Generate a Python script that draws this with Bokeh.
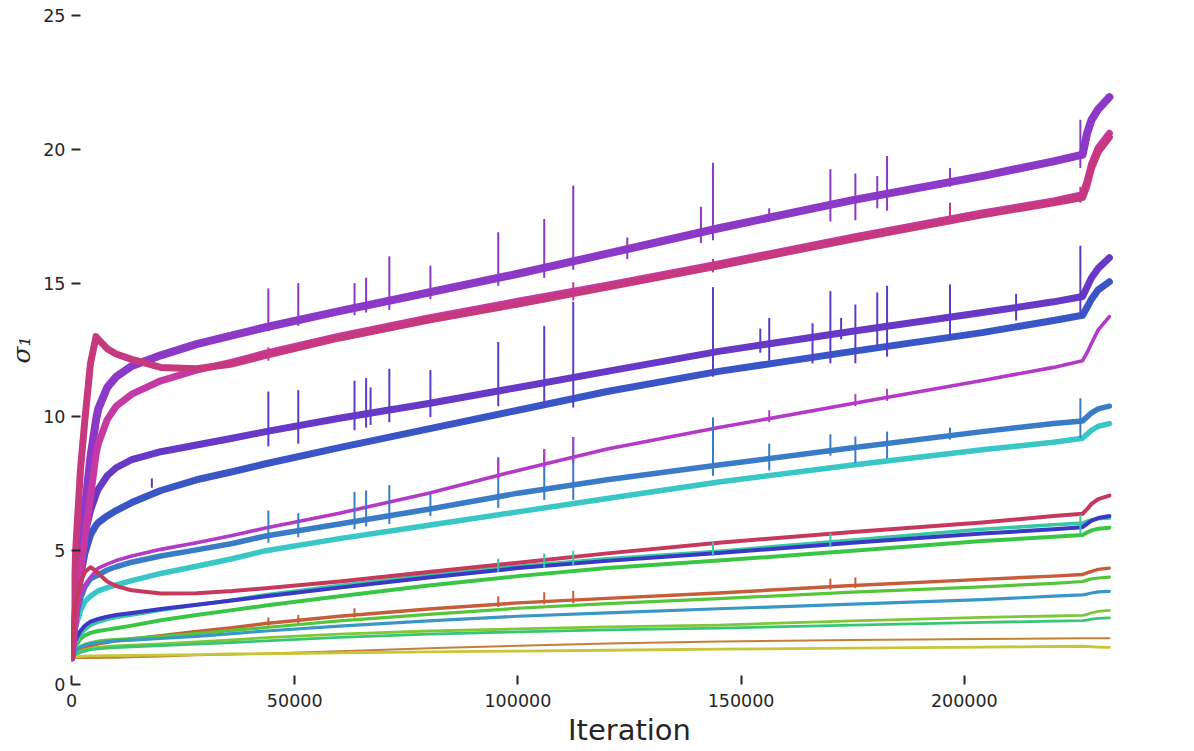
from bokeh.plotting import figure
from bokeh.models import ColumnDataSource, Range1d, FixedTicker, BasicTickFormatter
from bokeh.embed import file_html
from bokeh.resources import INLINE

# ---------------- data ----------------
iters = [0, 500, 1000, 2000, 3000, 4250, 5500, 6000, 8000, 10000, 13500, 20000, 28000, 36000,
         43500, 60000, 80000, 100000, 120000, 145000, 175000, 204000, 220000, 226500, 227500,
         228500, 230000, 232500]

s01 = [1.0, 2.0, 3.0, 5.0, 6.6, 8.5, 9.9, 10.3, 11.1, 11.5, 11.9, 12.3, 12.72, 13.05, 13.35, 13.95,
       14.65, 15.35, 16.1, 17.05, 18.1, 19.0, 19.55, 19.8, 20.6, 21.1, 21.5, 21.95]
s02 = [1.0, 3.5, 5.2, 8.0, 9.9, 12.0, 13.0, 12.9, 12.55, 12.35, 12.15, 11.85, 11.8, 11.98, 12.3,
       12.95, 13.62, 14.22, 14.85, 15.65, 16.65, 17.55, 18.0, 18.2, 18.65, 19.3, 19.9, 20.45]
s03 = [1.0, 1.8, 2.6, 4.1, 5.5, 7.0, 8.6, 9.0, 9.9, 10.4, 10.85, 11.35, 11.75, 12.05, 12.38, 13.02,
       13.7, 14.32, 14.92, 15.72, 16.72, 17.62, 18.07, 18.3, 18.8, 19.45, 20.05, 20.6]
s04 = [1.0, 2.0, 3.0, 4.6, 5.6, 6.5, 7.1, 7.3, 7.8, 8.1, 8.4, 8.7, 8.95, 9.2, 9.45, 9.95, 10.5,
       11.1, 11.7, 12.45, 13.2, 13.9, 14.3, 14.5, 14.85, 15.2, 15.55, 15.95]
s05 = [1.0, 1.9, 2.6, 4.0, 4.9, 5.6, 5.95, 6.05, 6.3, 6.5, 6.8, 7.25, 7.65, 7.95, 8.25, 8.85, 9.55,
       10.25, 10.95, 11.7, 12.45, 13.15, 13.6, 13.8, 14.1, 14.4, 14.75, 15.05]
s06 = [1.0, 1.8, 2.5, 3.3, 3.7, 4.0, 4.25, 4.35, 4.5, 4.63, 4.8, 5.05, 5.3, 5.57, 5.85, 6.4, 7.15,
       8.0, 8.8, 9.6, 10.5, 11.36, 11.85, 12.1, 12.4, 12.75, 13.25, 13.75]
s07 = [1.0, 1.8, 2.5, 3.2, 3.65, 3.95, 4.05, 4.1, 4.28, 4.4, 4.57, 4.8, 5.03, 5.27, 5.55, 6.0, 6.55,
       7.15, 7.65, 8.2, 8.85, 9.45, 9.75, 9.85, 10.0, 10.15, 10.3, 10.4]
s08 = [1.0, 1.7, 2.2, 2.75, 3.1, 3.3, 3.45, 3.5, 3.62, 3.72, 3.88, 4.15, 4.42, 4.7, 5.0, 5.45, 5.95,
       6.45, 6.95, 7.57, 8.2, 8.77, 9.05, 9.2, 9.35, 9.5, 9.65, 9.75]
s09 = [1.0, 2.3, 3.0, 3.8, 4.2, 4.38, 4.25, 4.15, 3.85, 3.68, 3.52, 3.4, 3.41, 3.49, 3.6, 3.85, 4.2,
       4.55, 4.9, 5.3, 5.7, 6.05, 6.3, 6.38, 6.55, 6.75, 6.93, 7.06]
s10 = [1.0, 1.3, 1.55, 1.85, 2.05, 2.2, 2.3, 2.33, 2.43, 2.5, 2.6, 2.78, 2.97, 3.16, 3.35, 3.7, 4.08,
       4.42, 4.7, 4.98, 5.4, 5.8, 5.97, 6.03, 6.1, 6.15, 6.2, 6.22]
s11 = [1.0, 1.4, 1.7, 2.0, 2.2, 2.35, 2.42, 2.45, 2.53, 2.6, 2.67, 2.82, 2.98, 3.14, 3.3, 3.62, 4.0,
       4.35, 4.62, 4.91, 5.3, 5.64, 5.8, 5.88, 6.0, 6.12, 6.22, 6.3]
s12 = [1.0, 1.25, 1.45, 1.7, 1.83, 1.93, 1.98, 2.0, 2.05, 2.1, 2.2, 2.4, 2.6, 2.78, 2.95, 3.3, 3.7,
       4.05, 4.35, 4.63, 5.0, 5.36, 5.52, 5.59, 5.68, 5.76, 5.82, 5.86]
s13 = [1.0, 1.1, 1.2, 1.3, 1.38, 1.45, 1.5, 1.52, 1.58, 1.63, 1.7, 1.82, 1.98, 2.12, 2.28, 2.55, 2.82,
       3.05, 3.22, 3.42, 3.7, 3.93, 4.05, 4.11, 4.17, 4.23, 4.3, 4.35]
s14 = [1.0, 1.15, 1.28, 1.42, 1.5, 1.56, 1.6, 1.62, 1.66, 1.68, 1.72, 1.8, 1.9, 2.02, 2.13, 2.38, 2.62,
       2.85, 3.02, 3.21, 3.45, 3.65, 3.78, 3.85, 3.9, 3.95, 3.98, 4.01]
s15 = [1.0, 1.15, 1.27, 1.4, 1.47, 1.52, 1.55, 1.56, 1.6, 1.63, 1.66, 1.72, 1.8, 1.9, 2.0, 2.18, 2.38,
       2.55, 2.68, 2.83, 3.0, 3.17, 3.3, 3.35, 3.38, 3.42, 3.46, 3.48]
s16 = [1.0, 1.08, 1.15, 1.25, 1.3, 1.35, 1.38, 1.39, 1.42, 1.44, 1.47, 1.52, 1.59, 1.67, 1.75, 1.88, 2.0,
       2.08, 2.15, 2.22, 2.38, 2.51, 2.56, 2.58, 2.62, 2.68, 2.73, 2.77]
s17 = [1.0, 1.06, 1.12, 1.2, 1.25, 1.3, 1.32, 1.33, 1.36, 1.38, 1.41, 1.45, 1.51, 1.57, 1.63, 1.76, 1.88,
       1.97, 2.04, 2.11, 2.22, 2.32, 2.37, 2.39, 2.41, 2.44, 2.47, 2.49]
s18 = [1.0, 0.99, 0.99, 0.99, 0.99, 0.99, 0.99, 0.99, 1.0, 1.0, 1.02, 1.05, 1.09, 1.12, 1.16, 1.24, 1.35,
       1.45, 1.53, 1.61, 1.66, 1.7, 1.72, 1.73, 1.73, 1.73, 1.73, 1.73]
s19 = [1.0, 1.02, 1.03, 1.05, 1.06, 1.07, 1.07, 1.07, 1.08, 1.08, 1.09, 1.1, 1.12, 1.14, 1.15, 1.18, 1.22,
       1.25, 1.28, 1.32, 1.36, 1.4, 1.42, 1.43, 1.42, 1.41, 1.4, 1.39]

# occasional spikes (iteration, low, high)
spk_a_x = [44100, 50800, 63400, 66000, 71200, 80400, 95600, 105900, 112400, 124500, 141000, 143700,
           156300, 170000, 175600, 180500, 182700, 196800, 226000]
spk_a_lo = [13.2, 13.4, 13.8, 13.9, 14.0, 14.4, 14.9, 15.2, 15.5, 15.9, 16.5, 16.6, 17.3, 17.3, 17.35,
            17.8, 17.7, 18.6, 19.3]
spk_a_hi = [14.8, 15.0, 15.0, 15.2, 16.0, 15.65, 16.9, 17.4, 18.65, 16.7, 17.85, 19.5, 17.8, 19.25,
            19.1, 19.0, 19.75, 19.3, 21.1]

spk_b_x = [44100, 112400, 143700, 196800, 226000]
spk_b_lo = [12.1, 14.35, 15.4, 17.2, 18.0]
spk_b_hi = [12.6, 15.03, 15.9, 18.0, 18.6]

spk_c_x = [18000, 44100, 50800, 63400, 66000, 67000, 71200, 80400, 95600, 105900, 112400, 143700,
           154300, 156300, 166000, 170000, 172400, 175600, 180500, 182700, 196800, 211600, 226000]
spk_c_lo = [7.35, 8.9, 9.0, 9.5, 9.6, 9.7, 9.8, 10.0, 10.4, 10.4, 10.35, 11.5, 12.4, 12.1, 12.0, 12.0,
            12.9, 12.0, 12.65, 12.25, 12.95, 13.6, 13.85]
spk_c_hi = [7.7, 10.95, 11.0, 11.35, 11.45, 11.1, 11.8, 11.75, 12.8, 13.4, 14.3, 14.85, 13.3, 13.7,
            13.5, 14.7, 13.7, 14.2, 14.65, 14.9, 14.95, 14.6, 16.4]

spk_d_x = [95600, 105900, 112400, 156300, 175600, 182700]
spk_d_lo = [7.7, 8.1, 8.3, 9.8, 10.4, 10.6]
spk_d_hi = [8.45, 8.8, 9.25, 10.25, 10.85, 11.05]

spk_e_x = [44100, 50800, 63400, 66000, 71200, 80400, 95600, 105900, 112400, 143700, 156300, 170000,
           175600, 182700, 196800, 226000]
spk_e_lo = [5.3, 5.5, 5.8, 5.9, 6.0, 6.3, 6.6, 6.9, 6.9, 7.8, 8.0, 8.55, 8.27, 8.45, 9.15, 9.2]
spk_e_hi = [6.5, 6.4, 7.2, 7.25, 7.45, 7.15, 8.5, 8.8, 9.25, 9.98, 9.0, 9.35, 9.27, 9.45, 9.6, 10.7]

spk_f_x = [95600, 105900, 112400, 143700, 170000, 226000]
spk_f_lo = [4.2, 4.35, 4.45, 4.8, 5.15, 5.6]
spk_f_hi = [4.7, 4.9, 5.0, 5.35, 5.65, 6.35]

spk_g_x = [44100, 50800, 63400, 95600, 105900, 112400, 170000, 175600]
spk_g_lo = [2.2, 2.3, 2.5, 2.9, 3.0, 3.05, 3.55, 3.6]
spk_g_hi = [2.5, 2.6, 2.85, 3.3, 3.45, 3.5, 3.95, 4.0]

x_ticks = [0, 50000, 100000, 150000, 200000]
y_ticks = [0, 5, 10, 15, 20, 25]

# ---------------- styling ----------------
series = [
    (s18, "#c67f39", 2.0), (s19, "#c6c639", 2.8), (s13, "#c65c39", 3.4),
    (s16, "#7fc639", 2.8), (s14, "#55c639", 3.2), (s12, "#39c645", 4.0),
    (s17, "#39c674", 2.8), (s10, "#39c6a3", 3.6), (s08, "#39c6c6", 5.5),
    (s15, "#3997c6", 3.2), (s07, "#397bc6", 5.5), (s05, "#3955c6", 7.0),
    (s11, "#3939c6", 4.0), (s04, "#6739c6", 7.0), (s01, "#8b39c6", 8.0),
    (s06, "#b339c6", 3.6), (s03, "#c639a3", 7.0), (s02, "#c6397f", 7.0),
    (s09, "#c6395c", 4.0),
]

spikes = [
    (spk_g_x, spk_g_lo, spk_g_hi, "#c65c39"),
    (spk_f_x, spk_f_lo, spk_f_hi, "#39c6a3"),
    (spk_e_x, spk_e_lo, spk_e_hi, "#397bc6"),
    (spk_d_x, spk_d_lo, spk_d_hi, "#b339c6"),
    (spk_c_x, spk_c_lo, spk_c_hi, "#5a3cc6"),
    (spk_b_x, spk_b_lo, spk_b_hi, "#c6398b"),
    (spk_a_x, spk_a_lo, spk_a_hi, "#8b39c6"),
]

p = figure(frame_width=1116, frame_height=669, output_backend="svg", toolbar_location=None,
           x_range=Range1d(0, 250000), y_range=Range1d(0, 25),
           min_border_left=71, min_border_right=4, min_border_top=15, min_border_bottom=58)
p.outline_line_color = None
p.background_fill_color = "white"
p.border_fill_color = "white"
p.grid.visible = False

for ys, col, w in series:
    src = ColumnDataSource(dict(x=iters, y=ys))
    p.line("x", "y", source=src, line_color=col, line_width=w, line_join="round", line_cap="round")

for sx, slo, shi, col in spikes:
    src = ColumnDataSource(dict(x=sx, lo=slo, hi=shi))
    p.segment(x0="x", y0="lo", x1="x", y1="hi", source=src, line_color=col, line_width=2)

for ax in (p.xaxis[0], p.yaxis[0]):
    ax.axis_line_color = None
    ax.major_tick_in = 9
    ax.major_tick_out = 0
    ax.major_tick_line_width = 2
    ax.major_tick_line_color = "#262626"
    ax.minor_tick_line_color = None
    ax.major_label_text_font = "DejaVu Sans"
    ax.major_label_text_font_size = "17.5px"
    ax.major_label_text_color = "#262626"

p.xaxis[0].ticker = FixedTicker(ticks=x_ticks)
p.xaxis[0].formatter = BasicTickFormatter(use_scientific=False)
p.xaxis[0].major_label_standoff = 9
p.xaxis[0].axis_label = "Iteration"
p.xaxis[0].axis_label_text_font = "DejaVu Sans"
p.xaxis[0].axis_label_text_font_size = "29px"
p.xaxis[0].axis_label_text_font_style = "normal"
p.xaxis[0].axis_label_text_color = "#262626"
p.xaxis[0].axis_label_standoff = 3

p.yaxis[0].ticker = FixedTicker(ticks=y_ticks)
p.yaxis[0].major_label_standoff = 6
p.yaxis[0].axis_label = "σ₁"
p.yaxis[0].axis_label_text_font = "DejaVu Serif"
p.yaxis[0].axis_label_text_font_size = "25px"
p.yaxis[0].axis_label_text_font_style = "italic"
p.yaxis[0].axis_label_text_color = "#262626"
p.yaxis[0].axis_label_standoff = 4

open("out.html", "w").write(file_html(p, INLINE))
